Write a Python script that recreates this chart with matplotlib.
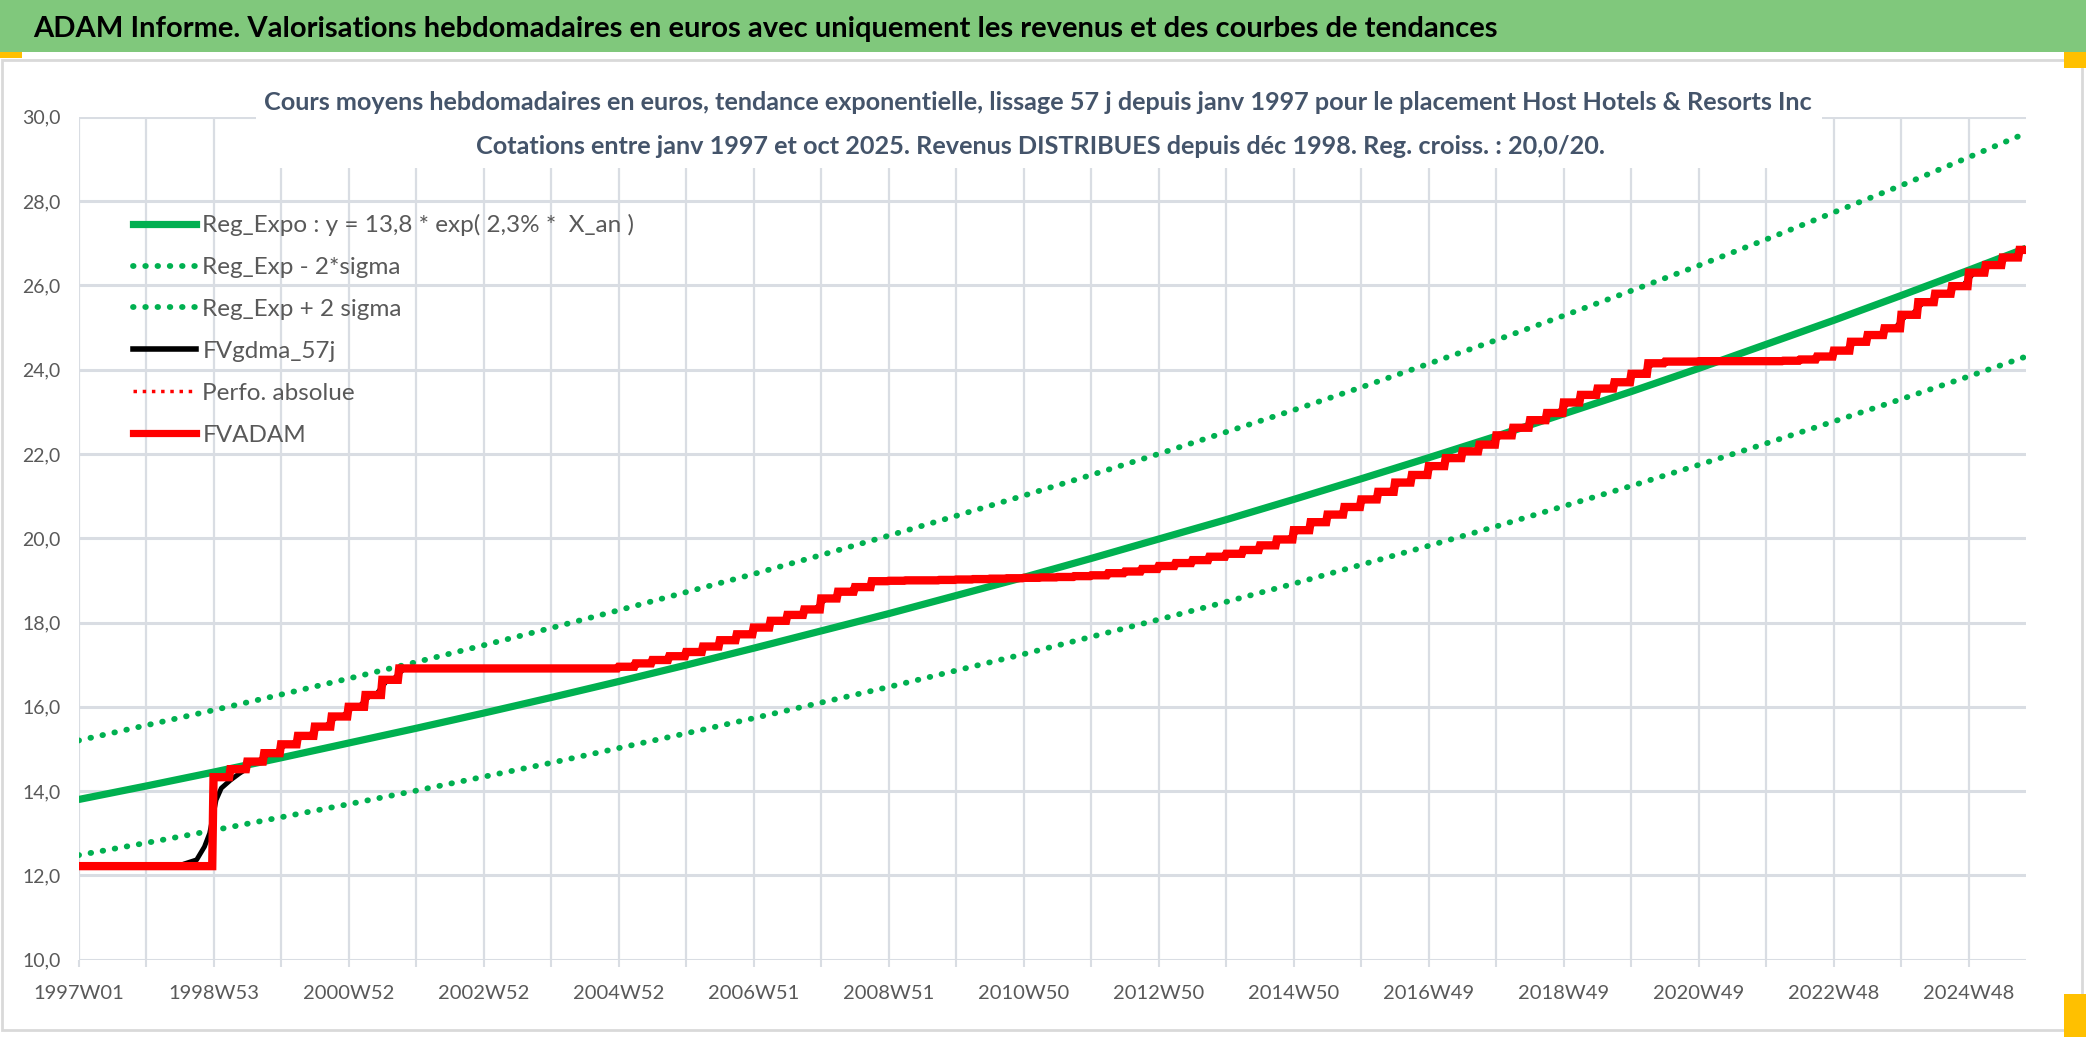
import numpy as np
import pandas as pd
import matplotlib.pyplot as plt
from matplotlib.patches import Rectangle
from matplotlib.lines import Line2D

plt.rcParams['font.family'] = ['Lato', 'DejaVu Sans']

W, H = 2086, 1037

# semaines 1997W01 .. 2025W40
n_weeks = 1501
tick_labels = ['1997W01', '1998W53', '2000W52', '2002W52', '2004W52', '2006W51',
               '2008W51', '2010W50', '2012W50', '2014W50', '2016W49', '2018W49',
               '2020W49', '2022W48', '2024W48']

# tendance exponentielle lue a chaque ligne de grille annuelle (+ derniere semaine)
trend_x = list(range(0, 1457, 52)) + [1500]
reg_expo = [13.80, 14.12, 14.45, 14.79, 15.14, 15.49, 15.85, 16.22, 16.60, 16.99,
            17.39, 17.80, 18.21, 18.64, 19.07, 19.52, 19.98, 20.44, 20.92, 21.41,
            21.91, 22.42, 22.95, 23.48, 24.03, 24.60, 25.17, 25.76, 26.36, 26.88]
reg_plus = [15.20, 15.56, 15.92, 16.29, 16.67, 17.06, 17.46, 17.87, 18.29, 18.72,
            19.15, 19.60, 20.06, 20.53, 21.01, 21.50, 22.00, 22.52, 23.04, 23.58,
            24.14, 24.70, 25.28, 25.87, 26.47, 27.09, 27.73, 28.37, 29.04, 29.61]
reg_minus = [12.48, 12.77, 13.07, 13.38, 13.69, 14.01, 14.34, 14.67, 15.02, 15.37,
             15.73, 16.10, 16.47, 16.86, 17.25, 17.66, 18.07, 18.49, 18.92, 19.37,
             19.82, 20.28, 20.76, 21.24, 21.74, 22.25, 22.77, 23.30, 23.84, 24.31]

# FVADAM : niveau initial puis paliers trimestriels (13 semaines) depuis 1998W53
fv_start = 12.22
first_step = 104
quarter = 13
fv_steps = [14.33, 14.52, 14.70, 14.90, 15.11, 15.31, 15.53, 15.77, 16.00, 16.28, 16.64, 16.91,
            16.91, 16.91, 16.91, 16.91, 16.91, 16.91, 16.91, 16.91, 16.91, 16.91, 16.91, 16.91,
            16.95, 17.03, 17.11, 17.20, 17.30, 17.43, 17.58, 17.72, 17.88, 18.04, 18.18, 18.31,
            18.57, 18.73, 18.84, 18.98,
            18.99, 19.00, 19.00, 19.01, 19.02, 19.03, 19.04, 19.05, 19.06, 19.07,
            19.08, 19.10, 19.12, 19.17, 19.21, 19.27, 19.34, 19.41, 19.48, 19.56,
            19.63, 19.72, 19.83, 19.97, 20.19, 20.38, 20.56, 20.74, 20.92, 21.10,
            21.32, 21.50, 21.71, 21.90, 22.06, 22.22, 22.44, 22.62, 22.80, 22.97,
            23.22, 23.40, 23.55, 23.70, 23.90, 24.15,
            24.19, 24.19, 24.20, 24.20, 24.20, 24.20, 24.20,
            24.21, 24.24, 24.31, 24.45, 24.66, 24.82, 24.98, 25.30, 25.60, 25.80,
            25.98, 26.30, 26.48, 26.66, 26.84]

# lissage autour du saut de 1998
jump_x = [78, 81, 91, 97, 101, 104, 106, 110, 117, 124, 128]
jump_y = [12.22, 12.27, 12.37, 12.68, 13.00, 13.47, 13.79, 14.07, 14.26, 14.42, 14.50]

fvadam = np.full(n_weeks, fv_start)
for i, lev in enumerate(fv_steps):
    fvadam[first_step + i * quarter:] = lev
fvadam = pd.Series(fvadam)
fvgdma = fvadam.rolling(9, center=True, min_periods=1).mean()
fvgdma[78:129] = np.nan
weeks = np.arange(n_weeks)

fig = plt.figure(figsize=(W / 100, H / 100), dpi=100)
fig.patch.set_facecolor('white')

# bandeau de titre
fig.add_artist(Rectangle((0, 1 - 52 / H), 1, 52 / H, transform=fig.transFigure,
                         facecolor='#80C87C', edgecolor='none', zorder=0))
fig.add_artist(Rectangle((2 / W, 1 - 1030 / H), 2080 / W, 970 / H, transform=fig.transFigure,
                         facecolor='none', edgecolor='#D9D9D9', lw=2, zorder=0))
fig.add_artist(Rectangle((0, 1 - 58 / H), 22 / W, 6 / H, transform=fig.transFigure,
                         facecolor='#FFC000', edgecolor='none'))
fig.add_artist(Rectangle((2064 / W, 1 - 68 / H), 22 / W, 16 / H, transform=fig.transFigure,
                         facecolor='#FFC000', edgecolor='none'))
fig.add_artist(Rectangle((2064 / W, 0), 22 / W, 43 / H, transform=fig.transFigure,
                         facecolor='#FFC000', edgecolor='none'))
fig.text(33 / W, 1 - 29 / H,
         'ADAM Informe. Valorisations hebdomadaires en euros avec uniquement les revenus et des courbes de tendances',
         fontsize=21, fontweight='bold', color='black', ha='left', va='center')

ax = fig.add_axes([78.5 / W, 1 - 959.7 / H, (2026 - 78.5) / W, (959.7 - 116.7) / H])

grid_c = '#D9DDE3'
ax.plot(trend_x, reg_plus, color='#00B050', lw=4.2, linestyle=(0, (0.1, 2.0)),
        dash_capstyle='round', zorder=3)
ax.plot(trend_x, reg_minus, color='#00B050', lw=4.2, linestyle=(0, (0.1, 2.0)),
        dash_capstyle='round', zorder=3)
ax.plot(trend_x, reg_expo, color='#00B050', lw=5.2, zorder=4, solid_capstyle='butt')
ax.plot(weeks, fvadam, color='#FF0000', lw=2.5, linestyle=':', zorder=4)
ax.plot(weeks, fvgdma, color='black', lw=3.5, zorder=5)
ax.plot(jump_x, jump_y, color='black', lw=3.5, zorder=5)
ax.plot(weeks, fvadam, color='#FF0000', lw=6, zorder=6, solid_joinstyle='miter')

ax.set_xlim(0, n_weeks - 1)
ax.set_ylim(10, 30)
ax.set_yticks(np.arange(10, 31, 2))
ax.set_yticklabels([f'{v:.1f}'.replace('.', ',') for v in np.arange(10, 31, 2)])
ax.set_xticks(np.arange(0, n_weeks, 52), minor=True)
ax.set_xticks(np.arange(0, n_weeks, 104))
ax.set_xticklabels(tick_labels)
ax.grid(True, which='both', axis='x', color=grid_c, lw=1.6)
ax.grid(True, which='major', axis='y', color=grid_c, lw=2.2)
ax.set_axisbelow(True)
for s in ax.spines.values():
    s.set_visible(False)
ax.tick_params(axis='x', which='both', length=5, width=1.5, color=grid_c,
               labelsize=14.5, labelcolor='#595959', pad=13)
ax.tick_params(axis='y', length=0, labelsize=14, labelcolor='#595959', pad=13)

handles = [
    Line2D([], [], color='#00B050', lw=5.2),
    Line2D([], [], color='#00B050', lw=4.2, linestyle=(0, (0.1, 2.0)), dash_capstyle='round'),
    Line2D([], [], color='#00B050', lw=4.2, linestyle=(0, (0.1, 2.0)), dash_capstyle='round'),
    Line2D([], [], color='black', lw=4),
    Line2D([], [], color='#FF0000', lw=2.5, linestyle=':'),
    Line2D([], [], color='#FF0000', lw=5.2),
]
labels = ['Reg_Expo : y = 13,8 * exp( 2,3% *  X_an )', 'Reg_Exp - 2*sigma', 'Reg_Exp + 2 sigma',
          'FVgdma_57j', 'Perfo. absolue', 'FVADAM']
leg = fig.legend(handles, labels, loc='upper left', bbox_to_anchor=(133 / W, 1 - 214 / H),
                 frameon=False, fontsize=17.5, handlelength=2.6, handletextpad=0.25,
                 labelspacing=0.86, borderpad=0, borderaxespad=0)
for t in leg.get_texts():
    t.set_color('#595959')

# cache blanc derriere le sous-titre
fig.add_artist(Rectangle((256 / W, 1 - 168 / H), (1822 - 256) / W, 100 / H,
                         transform=fig.transFigure, facecolor='white', edgecolor='none', zorder=2))
sub_c = '#44546A'
fig.text(1038 / W, 1 - 103 / H,
         'Cours moyens hebdomadaires en euros, tendance exponentielle, lissage 57 j depuis janv 1997 pour le placement Host Hotels & Resorts Inc',
         fontsize=18.2, fontweight='bold', color=sub_c, ha='center', va='center', zorder=3)
fig.text(1040 / W, 1 - 147 / H,
         'Cotations entre janv 1997 et oct 2025. Revenus DISTRIBUES depuis déc 1998. Reg. croiss. : 20,0/20.',
         fontsize=18.2, fontweight='bold', color=sub_c, ha='center', va='center', zorder=3)

fig.savefig('out.png', dpi=100)
